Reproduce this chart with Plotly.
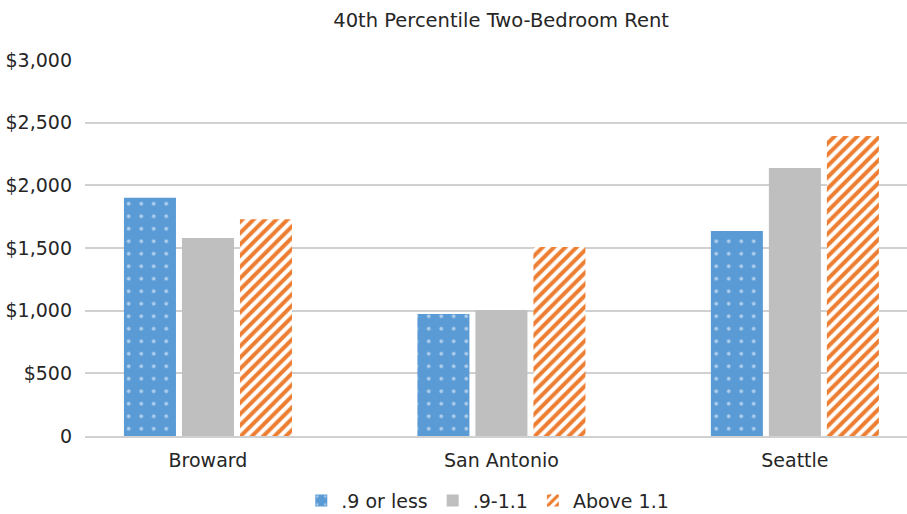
import plotly.graph_objects as go

categories = ["Broward", "San Antonio", "Seattle"]
series_names = [".9 or less", ".9-1.1", "Above 1.1"]
low_values = [1900, 973, 1636]
mid_values = [1580, 1005, 2138]
high_values = [1730, 1508, 2394]
y_tickvals = [0, 500, 1000, 1500, 2000, 2500, 3000]
y_ticktext = ["0", "$500", "$1,000", "$1,500", "$2,000", "$2,500", "$3,000"]

BLUE = "#5B9BD5"
GRAY = "#BFBFBF"
ORANGE = "#ED7D31"
FONT = "DejaVu Sans"
TXT = "#262626"

fig = go.Figure()
fig.add_trace(go.Bar(
    name=series_names[0], x=categories, y=low_values,
    marker=dict(color=BLUE, line=dict(width=0),
                pattern=dict(shape=".", fillmode="overlay", fgcolor="white",
                             bgcolor=BLUE, size=12.5, solidity=0.07)),
))
fig.add_trace(go.Bar(
    name=series_names[1], x=categories, y=mid_values,
    marker=dict(color=GRAY, line=dict(width=0)),
))
fig.add_trace(go.Bar(
    name=series_names[2], x=categories, y=high_values,
    marker=dict(color="white", line=dict(width=0),
                pattern=dict(shape="/", fillmode="replace", fgcolor=ORANGE,
                             bgcolor="white", size=8, solidity=0.5)),
))

fig.update_layout(
    width=907, height=514,
    margin=dict(l=85, r=0, t=60, b=78),
    paper_bgcolor="white", plot_bgcolor="white",
    barmode="group", bargap=0.407, bargroupgap=0.103,
    font=dict(family=FONT, size=19, color=TXT),
    title=dict(text="40th Percentile Two-Bedroom Rent", x=0.5525, xanchor="center",
               y=0.96, yanchor="middle", font=dict(family=FONT, size=19.5, color=TXT)),
    showlegend=True,
    legend=dict(orientation="h", x=0.49, xanchor="center",
                yref="container", y=0.026, yanchor="middle",
                font=dict(family=FONT, size=19, color=TXT), itemwidth=30,
                traceorder="normal"),
    xaxis=dict(range=[-0.419, 2.382], showgrid=False, showline=True,
               linecolor="#D0D0D0", linewidth=2, ticks="", tickfont=dict(size=19),
               ticklabelstandoff=6, automargin=False),
    yaxis=dict(range=[0, 3000], tickvals=y_tickvals, ticktext=y_ticktext,
               showgrid=True, gridcolor="#D0D0D0", gridwidth=2, zeroline=False,
               showline=False, ticks="", ticklabelstandoff=12, tickfont=dict(size=19),
               automargin=False),
)

fig.write_html("out.html")
